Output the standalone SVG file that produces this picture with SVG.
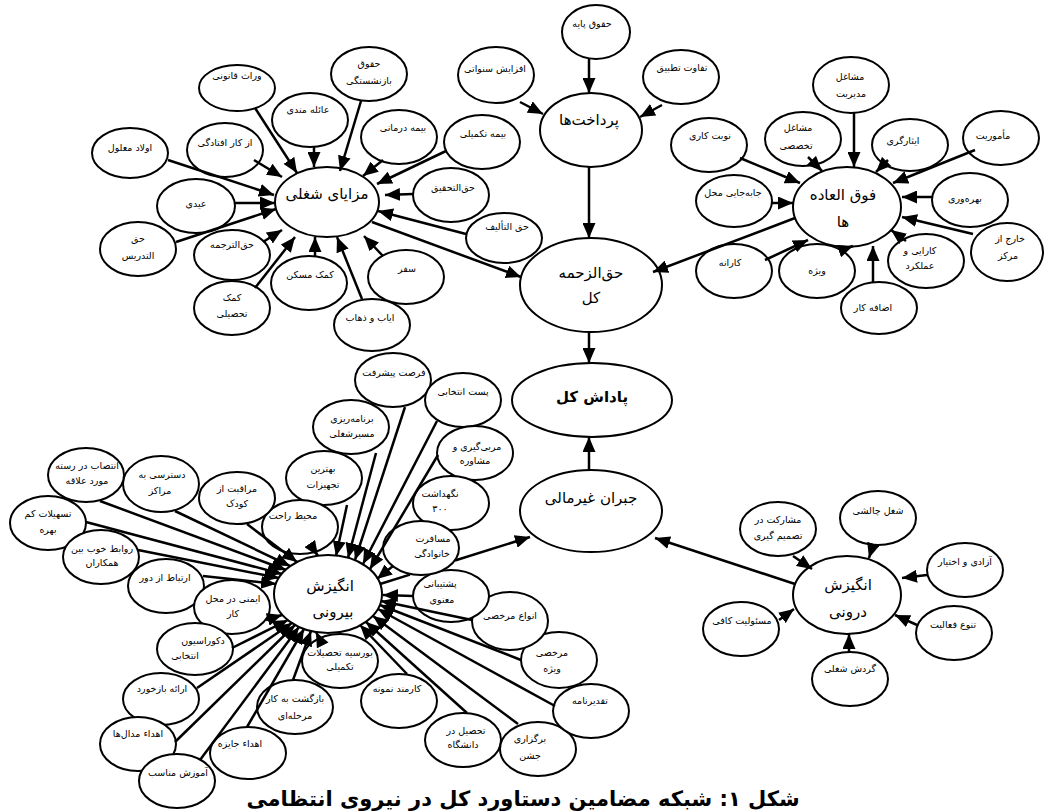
<svg xmlns="http://www.w3.org/2000/svg" width="1045" height="812" viewBox="0 0 1045 812">
<style>
.n ellipse{fill:#fff;stroke:#000;stroke-width:2}
text{font-family:"DejaVu Sans","Noto Sans",sans-serif;text-anchor:middle;dominant-baseline:central;fill:#000;font-size:9.5px}
.m text{font-size:15px}
.b text{font-size:15px;font-weight:bold}
.c line,.c path{stroke:#000;stroke-width:2.5;fill:none;marker-end:url(#ah)}
.title{font-size:21px;font-weight:bold}
</style>
<defs>
<marker id="ah" viewBox="0 0 15 13" refX="15" refY="6.5" markerWidth="15" markerHeight="13" markerUnits="userSpaceOnUse" orient="auto"><path d="M0,0L15,6.5L0,13z" fill="#000"/></marker>
</defs>
<rect width="1045" height="812" fill="#fff"/>

<!-- nodes: mazaya cluster -->
<g id="n_varas" class="n"><ellipse cx="237" cy="88" rx="38" ry="23"/><text x="237" y="75">وراث قانونی</text></g>
<g id="n_azkar" class="n"><ellipse cx="225" cy="150" rx="38" ry="27"/><text x="225" y="142">از کار افتادگی</text></g>
<g id="n_olad" class="n"><ellipse cx="130" cy="153" rx="38" ry="25"/><text x="130" y="147">اولاد معلول</text></g>
<g id="n_eidi" class="n"><ellipse cx="196" cy="206" rx="39" ry="27"/><text x="196" y="203">عیدی</text></g>
<g id="n_tadris" class="n"><ellipse cx="138" cy="249" rx="38" ry="27"/><text x="138" y="238">حق</text><text x="138" y="255">التدریس</text></g>
<g id="n_tarjome" class="n"><ellipse cx="232" cy="255" rx="38" ry="25"/><text x="232" y="244">حق&#8204;الترجمه</text></g>
<g id="n_komakTahsili" class="n"><ellipse cx="232" cy="308" rx="38" ry="27"/><text x="232" y="297">کمک</text><text x="232" y="313">تحصیلی</text></g>
<g id="n_aele" class="n"><ellipse cx="310" cy="120" rx="38" ry="27"/><text x="308" y="109">عائله مندی</text></g>
<g id="n_bazneshastegi" class="n"><ellipse cx="369" cy="74" rx="38" ry="27"/><text x="369" y="63">حقوق</text><text x="369" y="80">بازنشستگی</text></g>
<g id="n_bimeDarmani" class="n"><ellipse cx="399" cy="137" rx="38" ry="27"/><text x="403" y="127">بیمه درمانی</text></g>
<g id="n_bimeTakmili" class="n"><ellipse cx="482" cy="142" rx="38" ry="27"/><text x="483" y="133">بیمه تکمیلی</text></g>
<g id="n_tahghigh" class="n"><ellipse cx="451" cy="195" rx="38" ry="27"/><text x="453" y="187">حق&#8204;التحقیق</text></g>
<g id="n_talif" class="n"><ellipse cx="504" cy="238" rx="38" ry="25"/><text x="507" y="226">حق التألیف</text></g>
<g id="n_safar" class="n"><ellipse cx="406" cy="277" rx="38" ry="27"/><text x="407" y="268">سفر</text></g>
<g id="n_ayab" class="n"><ellipse cx="372" cy="325" rx="38" ry="26"/><text x="370" y="317">ایاب و ذهاب</text></g>
<g id="n_maskan" class="n"><ellipse cx="309" cy="283" rx="38" ry="27"/><text x="310" y="274">کمک مسکن</text></g>
<g id="n_mazaya" class="n m"><ellipse cx="327" cy="202" rx="52" ry="35"/><text x="327" y="194">مزایای شغلی</text></g>

<!-- payments -->
<g id="n_paye" class="n"><ellipse cx="596" cy="32" rx="34" ry="27"/><text x="592" y="23">حقوق پایه</text></g>
<g id="n_tatbigh" class="n"><ellipse cx="681" cy="77" rx="38" ry="27"/><text x="682" y="67">تفاوت تطبیق</text></g>
<g id="n_sanavati" class="n"><ellipse cx="496" cy="75" rx="38" ry="28"/><text x="495" y="68">افزایش سنواتی</text></g>
<g id="n_pardakht" class="n m"><ellipse cx="591" cy="130" rx="51" ry="37"/><text x="589" y="120">پرداخت&#8204;ها</text></g>

<!-- fogh -->
<g id="n_modiriat" class="n"><ellipse cx="851" cy="85" rx="38" ry="28"/><text x="850" y="76">مشاغل</text><text x="851" y="93">مدیریت</text></g>
<g id="n_takhassosi" class="n"><ellipse cx="803" cy="139" rx="38" ry="27"/><text x="798" y="127">مشاغل</text><text x="796" y="145">تخصصی</text></g>
<g id="n_isar" class="n"><ellipse cx="910" cy="145" rx="38" ry="26"/><text x="903" y="140">ایثارگری</text></g>
<g id="n_mamuriat" class="n"><ellipse cx="1001" cy="138" rx="38" ry="27"/><text x="993" y="135">مأموریت</text></g>
<g id="n_nobat" class="n"><ellipse cx="709" cy="145" rx="38" ry="27"/><text x="710" y="135">نوبت کاری</text></g>
<g id="n_jabejaei" class="n"><ellipse cx="734" cy="201" rx="38" ry="26"/><text x="733" y="192">جابه&#8204;جایی محل</text></g>
<g id="n_bahrevari" class="n"><ellipse cx="970" cy="200" rx="38" ry="27"/><text x="965" y="198">بهره&#8204;وری</text></g>
<g id="n_kharej" class="n"><ellipse cx="1007" cy="252" rx="36" ry="29"/><text x="1010" y="238">خارج از</text><text x="1008" y="255">مرکز</text></g>
<g id="n_karaei" class="n"><ellipse cx="926" cy="261" rx="38" ry="27"/><text x="920" y="250">کارایی و</text><text x="920" y="265">عملکرد</text></g>
<g id="n_ezafe" class="n"><ellipse cx="879" cy="308" rx="38" ry="26"/><text x="873" y="307">اضافه کار</text></g>
<g id="n_vizhe" class="n"><ellipse cx="817" cy="271" rx="38" ry="27"/><text x="817" y="270">ویژه</text></g>
<g id="n_karane" class="n"><ellipse cx="734" cy="271" rx="38" ry="27"/><text x="730" y="262">کارانه</text></g>
<g id="n_fogh" class="n m"><ellipse cx="847" cy="207" rx="54" ry="40"/><text x="843" y="195">فوق العاده</text><text x="843" y="222">ها</text></g>

<!-- center -->
<g id="n_haghozahme" class="n m"><ellipse cx="591" cy="285" rx="71" ry="47"/><text x="591" y="273">حق&#8204;الزحمه</text><text x="591" y="298">کل</text></g>
<g id="n_padash" class="n b"><ellipse cx="592" cy="400" rx="80" ry="37"/><text x="592" y="397">پاداش کل</text></g>
<g id="n_jobran" class="n m"><ellipse cx="591" cy="511" rx="71" ry="41"/><text x="591" y="498">جبران غیرمالی</text></g>

<!-- darooni -->
<g id="n_mosharekat" class="n"><ellipse cx="778" cy="529" rx="38" ry="27"/><text x="778" y="519">مشارکت در</text><text x="778" y="535">تصمیم گیری</text></g>
<g id="n_chaleshi" class="n"><ellipse cx="878" cy="518" rx="38" ry="27"/><text x="878" y="510">شغل چالشی</text></g>
<g id="n_azadi" class="n"><ellipse cx="965" cy="570" rx="38" ry="27"/><text x="965" y="561">آزادی و اختیار</text></g>
<g id="n_tanavo" class="n"><ellipse cx="954" cy="633" rx="38" ry="27"/><text x="953" y="624">تنوع فعالیت</text></g>
<g id="n_gardesh" class="n"><ellipse cx="850" cy="679" rx="38" ry="27"/><text x="850" y="668">گردش شغلی</text></g>
<g id="n_masooliat" class="n"><ellipse cx="741" cy="629" rx="38" ry="27"/><text x="742" y="620">مسئولیت کافی</text></g>
<g id="n_darooni" class="n m"><ellipse cx="847" cy="595" rx="54" ry="39"/><text x="848" y="585">انگیزش</text><text x="848" y="612">درونی</text></g>

<!-- biruni cluster -->
<g id="n_forsat" class="n"><ellipse cx="393" cy="380" rx="38" ry="27"/><text x="394" y="372">فرصت پیشرفت</text></g>
<g id="n_post" class="n"><ellipse cx="463" cy="400" rx="38" ry="27"/><text x="463" y="391">پست انتخابی</text></g>
<g id="n_barname" class="n"><ellipse cx="351" cy="427" rx="38" ry="27"/><text x="352" y="418">برنامه&#8204;ریزی</text><text x="352" y="433">مسیرشغلی</text></g>
<g id="n_morabi" class="n"><ellipse cx="475" cy="453" rx="38" ry="27"/><text x="477" y="446">مربی&#8204;گیری و</text><text x="475" y="460">مشاوره</text></g>
<g id="n_behtarin" class="n"><ellipse cx="324" cy="478" rx="38" ry="27"/><text x="323" y="468">بهترین</text><text x="323" y="484">تجهیزات</text></g>
<g id="n_negahdasht" class="n"><ellipse cx="451" cy="503" rx="38" ry="27"/><text x="440" y="493">نگهداشت</text><text x="440" y="508">۳۰۰</text></g>
<g id="n_mohit" class="n"><ellipse cx="300" cy="527" rx="38" ry="27"/><text x="293" y="515">محیط راحت</text></g>
<g id="n_moraghebat" class="n"><ellipse cx="237" cy="498" rx="38" ry="26"/><text x="237" y="488">مراقبت از</text><text x="237" y="503">کودک</text></g>
<g id="n_dastresi" class="n"><ellipse cx="161" cy="484" rx="38" ry="28"/><text x="162" y="474">دسترسی به</text><text x="160" y="490">مراکز</text></g>
<g id="n_entesab" class="n"><ellipse cx="86" cy="475" rx="38" ry="27"/><text x="87" y="465">انتصاب در رسته</text><text x="87" y="480">مورد علاقه</text></g>
<g id="n_tashilat" class="n"><ellipse cx="48" cy="523" rx="38" ry="27"/><text x="48" y="513">تسهیلات کم</text><text x="48" y="529">بهره</text></g>
<g id="n_ravabet" class="n"><ellipse cx="101" cy="557" rx="38" ry="27"/><text x="102" y="548">روابط خوب بین</text><text x="102" y="562">همکاران</text></g>
<g id="n_ertebat" class="n"><ellipse cx="166" cy="586" rx="38" ry="27"/><text x="165" y="577">ارتباط از دور</text></g>
<g id="n_imeni" class="n"><ellipse cx="232" cy="607" rx="38" ry="27"/><text x="233" y="598">ایمنی در محل</text><text x="233" y="613">کار</text></g>
<g id="n_decor" class="n"><ellipse cx="195" cy="649" rx="38" ry="26"/><text x="203" y="640">دکوراسیون</text><text x="185" y="655">انتخابی</text></g>
<g id="n_bazkhord" class="n"><ellipse cx="161" cy="699" rx="38" ry="26"/><text x="162" y="688">ارائه بازخورد</text></g>
<g id="n_medal" class="n"><ellipse cx="138" cy="744" rx="38" ry="27"/><text x="138" y="733">اهداء مدال&#8204;ها</text></g>
<g id="n_amoozesh" class="n"><ellipse cx="177" cy="781" rx="38" ry="27"/><text x="178" y="772">آموزش مناسب</text></g>
<g id="n_jayeze" class="n"><ellipse cx="248" cy="753" rx="38" ry="26"/><text x="240" y="743">اهداء جایزه</text></g>
<g id="n_bazgasht" class="n"><ellipse cx="295" cy="707" rx="38" ry="27"/><text x="295" y="698">بازگشت به کار</text><text x="295" y="715">مرحله&#8204;ای</text></g>
<g id="n_boorsie" class="n"><ellipse cx="340" cy="661" rx="38" ry="27"/><text x="340" y="652">بورسیه تحصیلات</text><text x="340" y="666">تکمیلی</text></g>
<g id="n_karmand" class="n"><ellipse cx="399" cy="701" rx="38" ry="27"/><text x="397" y="688">کارمند نمونه</text></g>
<g id="n_tahsil" class="n"><ellipse cx="463" cy="740" rx="38" ry="27"/><text x="466" y="730">تحصیل در</text><text x="463" y="744">دانشگاه</text></g>
<g id="n_jashn" class="n"><ellipse cx="538" cy="749" rx="38" ry="27"/><text x="530" y="738">برگزاری</text><text x="530" y="755">جشن</text></g>
<g id="n_taghdir" class="n"><ellipse cx="591" cy="711" rx="38" ry="27"/><text x="590" y="700">تقدیرنامه</text></g>
<g id="n_morakhsiVizhe" class="n"><ellipse cx="559" cy="660" rx="38" ry="28"/><text x="552" y="652">مرخصی</text><text x="552" y="668">ویژه</text></g>
<g id="n_anva" class="n"><ellipse cx="510" cy="621" rx="38" ry="29"/><text x="510" y="615">انواع مرخصی</text></g>
<g id="n_poshtibani" class="n"><ellipse cx="451" cy="596" rx="38" ry="26"/><text x="440" y="583">پشتیبانی</text><text x="442" y="599">معنوی</text></g>
<g id="n_mosaferat" class="n"><ellipse cx="421" cy="548" rx="38" ry="27"/><text x="433" y="538">مسافرت</text><text x="432" y="553">خانوادگی</text></g>
<g id="n_biruni" class="n m"><ellipse cx="328" cy="594" rx="54" ry="39"/><text x="330" y="586">انگیزش</text><text x="333" y="612">بیرونی</text></g>

<!-- connectors -->
<g id="connectors" class="c">
<line x1="255" y1="108" x2="297" y2="173"/>
<line x1="254" y1="160" x2="282" y2="177"/>
<line x1="168" y1="160" x2="274" y2="195"/>
<line x1="235" y1="203" x2="275" y2="203"/>
<line x1="176" y1="242" x2="276" y2="209"/>
<line x1="263" y1="242" x2="282" y2="230"/>
<line x1="255" y1="288" x2="295" y2="237"/>
<line x1="314" y1="147" x2="314" y2="167"/>
<line x1="361" y1="101" x2="340" y2="171"/>
<line x1="383" y1="160" x2="363" y2="176"/>
<line x1="446" y1="151" x2="377" y2="184"/>
<line x1="413" y1="194" x2="385" y2="195"/>
<line x1="466" y1="234" x2="378" y2="211"/>
<line x1="383" y1="256" x2="364" y2="236"/>
<line x1="315" y1="256" x2="315" y2="237"/>
<line x1="362" y1="299" x2="337" y2="237"/>
<line x1="372" y1="222" x2="521" y2="277"/>
<line x1="589" y1="59" x2="589" y2="93"/>
<line x1="662" y1="105" x2="640" y2="117"/>
<line x1="520" y1="102" x2="543" y2="114"/>
<line x1="589" y1="167" x2="589" y2="238"/>
<line x1="740" y1="158" x2="800" y2="183"/>
<line x1="808" y1="157" x2="822" y2="171"/>
<line x1="854" y1="113" x2="854" y2="167"/>
<line x1="888" y1="160" x2="876" y2="172"/>
<line x1="975" y1="150" x2="893" y2="183"/>
<line x1="932" y1="197" x2="902" y2="197"/>
<line x1="973" y1="234" x2="902" y2="217"/>
<line x1="906" y1="241" x2="891" y2="230"/>
<line x1="873" y1="282" x2="873" y2="246"/>
<line x1="842" y1="250" x2="853" y2="246"/>
<line x1="765" y1="260" x2="808" y2="240"/>
<line x1="772" y1="203" x2="793" y2="203"/>
<line x1="795" y1="218" x2="653" y2="272"/>
<line x1="589" y1="332" x2="589" y2="363"/>
<line x1="589" y1="470" x2="589" y2="437"/>
<line x1="795" y1="584" x2="655" y2="538"/>
<path d="M380,584L410,574.6M455,560.5L530,537"/>
<line x1="793" y1="556" x2="812" y2="569"/>
<line x1="873" y1="545" x2="869" y2="558"/>
<line x1="927" y1="575" x2="902" y2="578"/>
<line x1="917" y1="625" x2="895" y2="615"/>
<line x1="849" y1="652" x2="849" y2="634"/>
<line x1="779" y1="620" x2="794" y2="609"/>
<line x1="405" y1="407" x2="355" y2="560"/>
<line x1="437" y1="421" x2="363" y2="564"/>
<line x1="376" y1="453" x2="348" y2="558"/>
<line x1="438" y1="455" x2="370" y2="569"/>
<line x1="347" y1="505" x2="336" y2="556"/>
<line x1="393" y1="566" x2="377" y2="579"/>
<line x1="310" y1="544" x2="318" y2="556"/>
<line x1="247" y1="524" x2="297" y2="562"/>
<line x1="175" y1="511" x2="290" y2="566"/>
<line x1="100" y1="501" x2="286" y2="570"/>
<line x1="86" y1="522" x2="282" y2="574"/>
<line x1="138" y1="550" x2="279" y2="578"/>
<line x1="203" y1="576" x2="276" y2="584"/>
<line x1="266" y1="620" x2="282" y2="615"/>
<line x1="232" y1="648" x2="288" y2="620"/>
<line x1="197" y1="688" x2="292" y2="623"/>
<line x1="175" y1="742" x2="295" y2="625"/>
<line x1="200" y1="760" x2="299" y2="627"/>
<line x1="247" y1="727" x2="304" y2="629"/>
<line x1="293" y1="680" x2="311" y2="631"/>
<line x1="320" y1="640" x2="316" y2="632"/>
<line x1="407" y1="674" x2="360" y2="625"/>
<line x1="467" y1="713" x2="366" y2="622"/>
<line x1="518" y1="724" x2="373" y2="616"/>
<line x1="555" y1="706" x2="378" y2="609"/>
<line x1="521" y1="660" x2="380" y2="605"/>
<line x1="472" y1="620" x2="381" y2="601"/>
<line x1="413" y1="596" x2="383" y2="595"/>
</g>

<text class="title" x="523" y="799" direction="rtl">شکل ۱: شبکه مضامین دستاورد کل در نیروی انتظامی</text>
</svg>
